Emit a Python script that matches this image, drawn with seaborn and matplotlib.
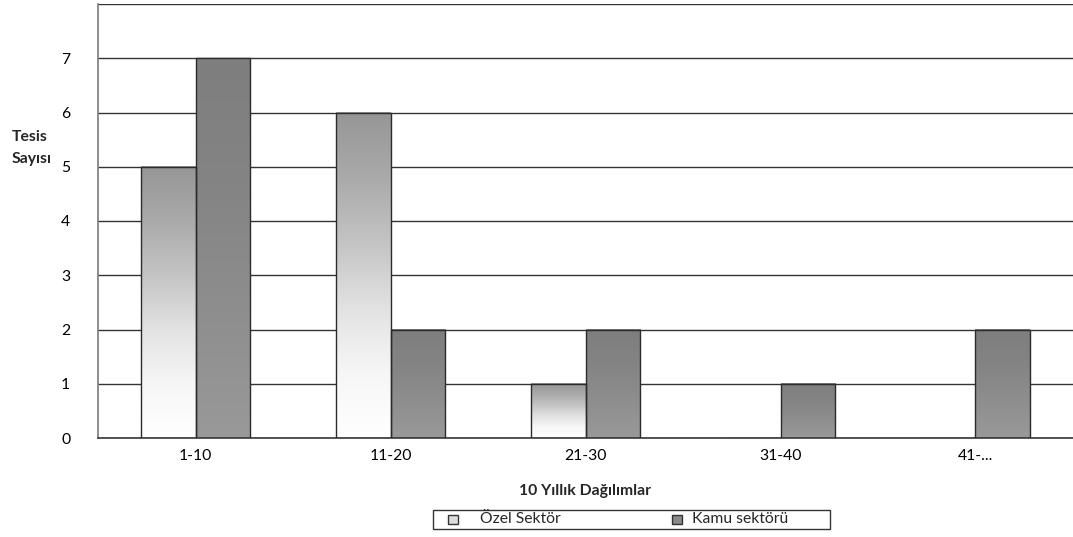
import numpy as np
import pandas as pd
import matplotlib
matplotlib.use("Agg")
import matplotlib.pyplot as plt
from matplotlib.colors import LinearSegmentedColormap
from matplotlib.patches import Rectangle
import seaborn as sns

# data
categories = ["1-10", "11-20", "21-30", "31-40", "41-..."]
ozel = [5, 6, 1, 0, 0]
kamu = [7, 2, 2, 1, 2]
series_names = ["Özel Sektör", "Kamu sektörü"]

df = pd.DataFrame({
    "kategori": categories * 2,
    "deger": ozel + kamu,
    "sektor": [series_names[0]] * len(categories) + [series_names[1]] * len(categories),
})

sns.set_theme(style="white")
plt.rcParams["font.family"] = ["Lato", "DejaVu Sans"]
fs = 11.3

fig = plt.figure(figsize=(10.73, 5.37), dpi=100)
ax = fig.add_axes([98 / 1073, 1 - 438 / 537, 1 - 98 / 1073, 434 / 537])

ax = sns.barplot(data=df, x="kategori", y="deger", hue="sektor", order=categories,
                 hue_order=series_names, width=0.56, dodge=True, ax=ax,
                 palette=["#ffffff", "#8c8c8c"], edgecolor="#2b2b2b", linewidth=1,
                 legend=False, zorder=3)

# gradient fills, one per bar (normalised on bar height)
cmaps = [
    LinearSegmentedColormap.from_list("oz", ["#ffffff", "#f6f6f6", "#e2e2e2", "#c4c4c4", "#aaaaaa", "#969696"]),
    LinearSegmentedColormap.from_list("ka", ["#999999", "#8e8e8e", "#848484", "#7e7e7e"]),
]
grad = np.linspace(0, 1, 256).reshape(-1, 1)
n = len(categories)
for i, p in enumerate(ax.patches[:2 * n]):
    h = p.get_height()
    if h <= 0:
        continue
    x0 = p.get_x()
    w = p.get_width()
    ax.imshow(grad, extent=[x0, x0 + w, 0, h], origin="lower", aspect="auto",
              cmap=cmaps[i // n], zorder=2.5, interpolation="bilinear")
    p.set_facecolor("none")

ax.set_xlim(-0.5, len(categories) - 0.5)
ax.set_ylim(0, 8)

# axes styling
ax.set_yticks(range(0, 9))
ax.set_yticklabels([str(v) for v in range(0, 8)] + [""])
ax.yaxis.grid(True, color="#333333", linewidth=1)
ax.set_axisbelow(True)
for s in ["top", "right"]:
    ax.spines[s].set_visible(False)
ax.spines["left"].set_color("#808080")
ax.spines["bottom"].set_color("#404040")
ax.tick_params(axis="y", length=5, width=1, color="#808080", pad=15, labelsize=fs, labelcolor="black")
ax.tick_params(axis="x", which="major", length=0, pad=8, labelsize=fs, labelcolor="black")
ax.set_xticks(np.arange(0.5, len(categories) - 0.5, 1), minor=True)
ax.tick_params(axis="x", which="minor", length=5, width=1, color="#404040")

ax.set_xlabel("10 Yıllık Dağılımlar", fontsize=fs, fontweight="bold", labelpad=15)
ax.set_ylabel("")
fig.text(12 / 1073, 1 - 148 / 537, "Tesis\nSayısı", fontsize=fs, fontweight="bold",
         ha="left", va="center", linespacing=1.75)

# legend box drawn like the spreadsheet one
W, H = 1073, 537
fig.patches.append(Rectangle((433 / W, 1 - 529 / H), 397 / W, 19 / H, transform=fig.transFigure,
                             facecolor="white", edgecolor="#333333", linewidth=1))
legend_items = [(448, 480, "#dcdcdc"), (672, 692, "#8a8a8a")]
for name, (mx, tx, col) in zip(series_names, legend_items):
    fig.patches.append(Rectangle((mx / W, 1 - 524 / H), 10 / W, 9 / H, transform=fig.transFigure,
                                 facecolor=col, edgecolor="#333333", linewidth=1))
    fig.text(tx / W, 1 - 519 / H, name, fontsize=fs, ha="left", va="center")

fig.savefig("out.png", dpi=100, facecolor="white")
